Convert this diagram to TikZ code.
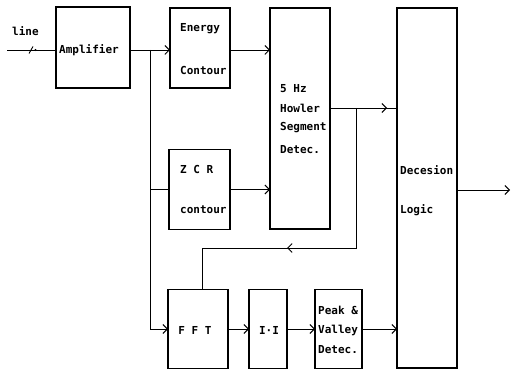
\documentclass[tikz,border=0pt]{standalone}
\usepackage{fontspec}
\setmonofont{DejaVu Sans Mono}
\usetikzlibrary{arrows.meta,decorations.markings}
\begin{document}
\begin{tikzpicture}[x=1pt,y=-1pt,
  blk/.style={draw,line width=1.2pt,inner sep=0pt,outer sep=0pt},
  lbl/.style={font=\ttfamily\bfseries\fontsize{11}{12}\selectfont,anchor=west,inner sep=0pt},
  wire/.style={line width=0.9pt},
  >={Straight Barb[length=4.5pt,width=9pt,line width=0.9pt]}]
\useasboundingbox (0,0) rectangle (512,374);
% blocks
\node[blk,minimum width=74pt,minimum height=81pt] (amp) at (93,47.5) {};
\node[blk,minimum width=60pt,minimum height=80pt] (energy) at (200,48) {};
\node[blk,minimum width=60pt,minimum height=221pt] (howler) at (300,118.5) {};
\node[blk,minimum width=61pt,minimum height=80pt] (zcr) at (199.5,189.5) {};
\node[blk,minimum width=60pt,minimum height=360pt] (dec) at (427,188) {};
\node[blk,minimum width=60pt,minimum height=79pt] (fft) at (198,329) {};
\node[blk,minimum width=38pt,minimum height=79pt] (abs) at (268,329) {};
\node[blk,minimum width=47pt,minimum height=79pt] (pv) at (338.5,329) {};
% labels
\node[lbl] (tline) at (12,31) {line};
\node[lbl] (tamp) at (59,50) {Amplifier};
\node[lbl] (te1) at (180,29) {Energy};
\node[lbl] (te2) at (180,70) {Contour};
\node[lbl] (th1) at (280,89) {5 Hz};
\node[lbl] (th2) at (280,108) {Howler};
\node[lbl] (th3) at (280,128) {Segment};
\node[lbl] (th4) at (280,150) {Detec.};
\node[lbl] (tz1) at (180,169) {Z C R};
\node[lbl] (tz2) at (180,210) {contour};
\node[lbl] (td1) at (400,170) {Decesion};
\node[lbl] (td2) at (400,210) {Logic};
\node[lbl,anchor=center] (tf) at (195,330) {F F T};
\node[lbl,anchor=center] (ta) at (269,330) {I·I};
\node[lbl] (tp1) at (318,310) {Peak \&};
\node[lbl] (tp2) at (318,330) {Valley};
\node[lbl] (tp3) at (318,350) {Detec.};
% coordinates
\coordinate (in) at (7,50);
\coordinate (j1) at (150,50);
\coordinate (hy) at (0,108);
\coordinate (fbA) at (356,108);
\coordinate (fbB) at (202,248);
\coordinate (out) at (510,190);
% wires
\draw[wire] (in) -- (in -| amp.west);
\draw[wire] (29,53.5) -- (33,46.5);
\fill (35.5,50) circle (1.1pt);
\draw[wire,->] (in -| amp.east) -- (in -| energy.west);
\draw[wire,->] (j1) |- (fft.west);
\draw[wire] (j1 |- zcr.west) -- (zcr.west);
\draw[wire,->] (in -| energy.east) -- (in -| howler.west);
\draw[wire,->] (zcr.east) -- (zcr.east -| howler.west);
\draw[wire,postaction={decorate,decoration={markings,mark=at position -10pt with {\arrow{>}}}}] (howler.east |- hy) -- (dec.west |- hy);
\draw[wire,postaction={decorate,decoration={markings,mark=at position 209pt with {\arrow{>}}}}] (fbA) |- (fbB) -- (fbB |- fft.north);
\draw[wire,->] (fft.east) -- (abs.west);
\draw[wire,->] (abs.east) -- (pv.west);
\draw[wire,->] (pv.east) -- (pv.east -| dec.west);
\draw[wire,->] (dec.east |- out) -- (out);
\end{tikzpicture}
\end{document}
